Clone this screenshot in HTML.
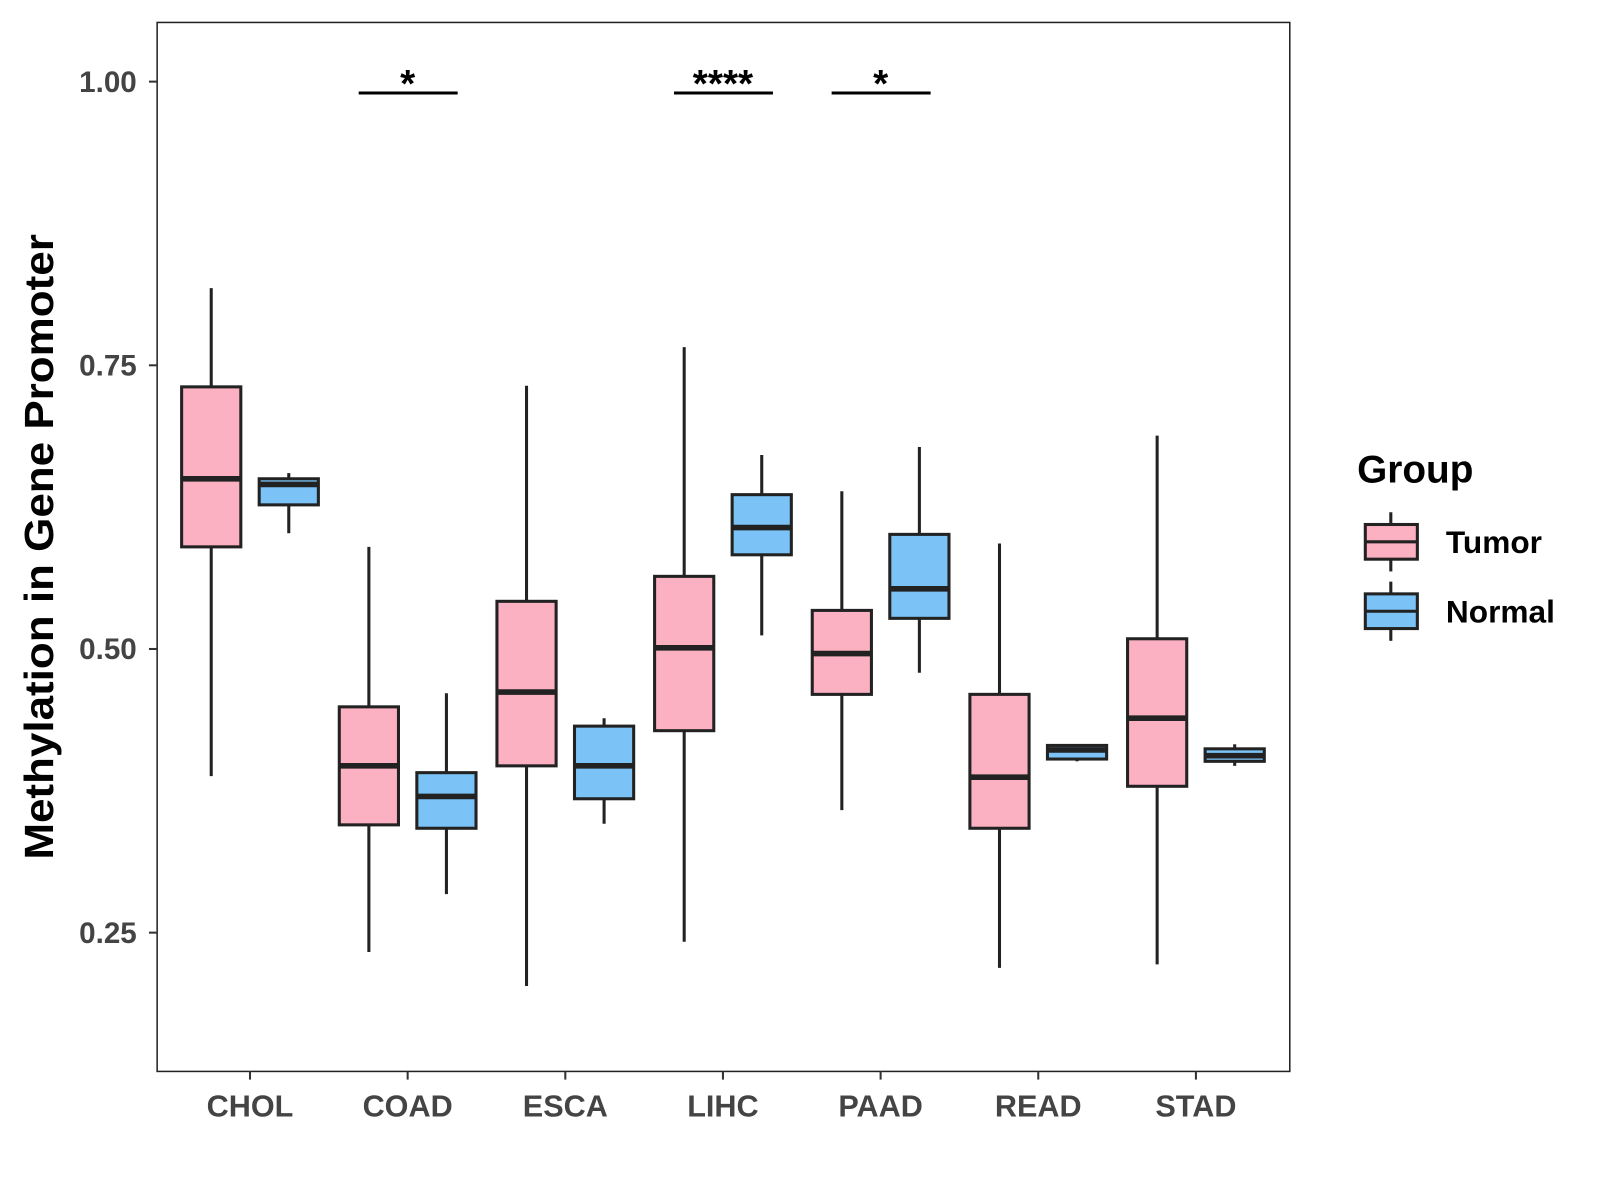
<!DOCTYPE html>
<html><head><meta charset="utf-8"><style>body{margin:0;background:#fff}svg{display:block}</style></head>
<body>
<svg id="chart" width="1600" height="1200" viewBox="0 0 1568 1176" xmlns="http://www.w3.org/2000/svg" font-family="Liberation Sans, Arial, sans-serif"></svg>
<script>
const categories=["CHOL","COAD","ESCA","LIHC","PAAD","READ","STAD"];
const tumorStats=[[0.388,0.590,0.650,0.731,0.818],[0.233,0.345,0.397,0.449,0.590],[0.203,0.397,0.462,0.542,0.732],[0.242,0.428,0.501,0.564,0.766],[0.358,0.460,0.496,0.534,0.639],[0.219,0.342,0.387,0.460,0.593],[0.222,0.379,0.439,0.509,0.688]];
const normalStats=[[0.602,0.627,0.645,0.650,0.655],[0.284,0.342,0.370,0.391,0.461],[0.346,0.368,0.397,0.432,0.439],[0.512,0.583,0.607,0.636,0.671],[0.479,0.527,0.553,0.601,0.678],[0.401,0.403,0.411,0.415,0.415],[0.397,0.401,0.406,0.412,0.416]];
const yTicks=[0.25,0.50,0.75,1.00];
const yTickLabels=["0.25","0.50","0.75","1.00"];
const sigCats=["COAD","LIHC","PAAD"];
const sigLabels=["*","****","*"];
const sigY=0.99;

const svg=document.getElementById('chart');
const NS="http://www.w3.org/2000/svg";
const L=154,R=1264,T=22,B=1050;
const y=v=>80+(1-v)*1112;
const x=c=>245+categories.indexOf(c)*154.5;
function mk(tag,attrs,parent){const e=document.createElementNS(NS,tag);for(const k in attrs)e.setAttribute(k,attrs[k]);(parent||svg).appendChild(e);return e;}

const panel=mk('rect',{x:L,y:T,width:R-L,height:B-T,fill:'none',stroke:'#222','stroke-width':1.5});



yTicks.forEach((t,i)=>{
  const g=mk('g',{});
  
  
  mk('line',{x1:L-8,x2:L,y1:y(t),y2:y(t),stroke:'#333','stroke-width':2},g);
  const tx=mk('text',{x:L-20,y:y(t)+10,'text-anchor':'end','font-size':29,'font-weight':'bold',fill:'#444'},g);
  tx.textContent=yTickLabels[i];
});
categories.forEach(c=>{
  const g=mk('g',{});
  
  
  mk('line',{x1:x(c),x2:x(c),y1:B,y2:B+8,stroke:'#333','stroke-width':2},g);
  const tx=mk('text',{x:x(c),y:1094,'text-anchor':'middle','font-size':30,'font-weight':'bold',fill:'#444'},g);
  tx.textContent=c;
});
const yt=mk('text',{x:52,y:536,'text-anchor':'middle','font-size':40,'font-weight':'bold',fill:'#000',transform:'rotate(-90 52 536)',textLength:613,lengthAdjust:'spacingAndGlyphs'});
yt.textContent='Methylation in Gene Promoter';



function box(cx,s,fill,name){
  const g=mk('g',{});
  
  
  const w=58;
  mk('line',{x1:cx,x2:cx,y1:y(s[4]),y2:y(s[0]),stroke:'#222','stroke-width':3},g);
  mk('rect',{x:cx-w/2,y:y(s[3]),width:w,height:Math.max(1,y(s[1])-y(s[3])),fill:fill,stroke:'#222','stroke-width':3},g);
  mk('line',{x1:cx-w/2,x2:cx+w/2,y1:y(s[2]),y2:y(s[2]),stroke:'#222','stroke-width':5.5},g);
}
categories.forEach((c,i)=>{
  box(x(c)-38,tumorStats[i],'#FBB1C2','box-tumor-'+c.toLowerCase());
  box(x(c)+38,normalStats[i],'#7BC3F7','box-normal-'+c.toLowerCase());
});
sigCats.forEach((c,i)=>{
  const g=mk('g',{});
  
  
  mk('line',{x1:x(c)-48,x2:x(c)+49,y1:y(sigY),y2:y(sigY),stroke:'#000','stroke-width':3},g);
  const t=mk('text',{x:x(c),y:y(sigY)+4,'text-anchor':'middle','font-size':38,'font-weight':'bold',fill:'#000'},g);
  t.textContent=sigLabels[i];
});
const lg=mk('g',{});


const lt=mk('text',{x:1330,y:473,'font-size':38,'font-weight':'bold',fill:'#000'},lg);
lt.textContent='Group';
[['Tumor','#FBB1C2',531],['Normal','#7BC3F7',599]].forEach(([n,f,cy])=>{
  const e=mk('g',{},lg);
  
  
  mk('line',{x1:1363,x2:1363,y1:cy-29,y2:cy+29,stroke:'#222','stroke-width':3},e);
  mk('rect',{x:1338,y:cy-17,width:51,height:34,fill:f,stroke:'#222','stroke-width':3},e);
  mk('line',{x1:1338,x2:1389,y1:cy,y2:cy,stroke:'#222','stroke-width':3},e);
  const t=mk('text',{x:1417,y:cy+11,'font-size':31,'font-weight':'bold',fill:'#000'},e);
  t.textContent=n;
});
</script>
</body></html>
